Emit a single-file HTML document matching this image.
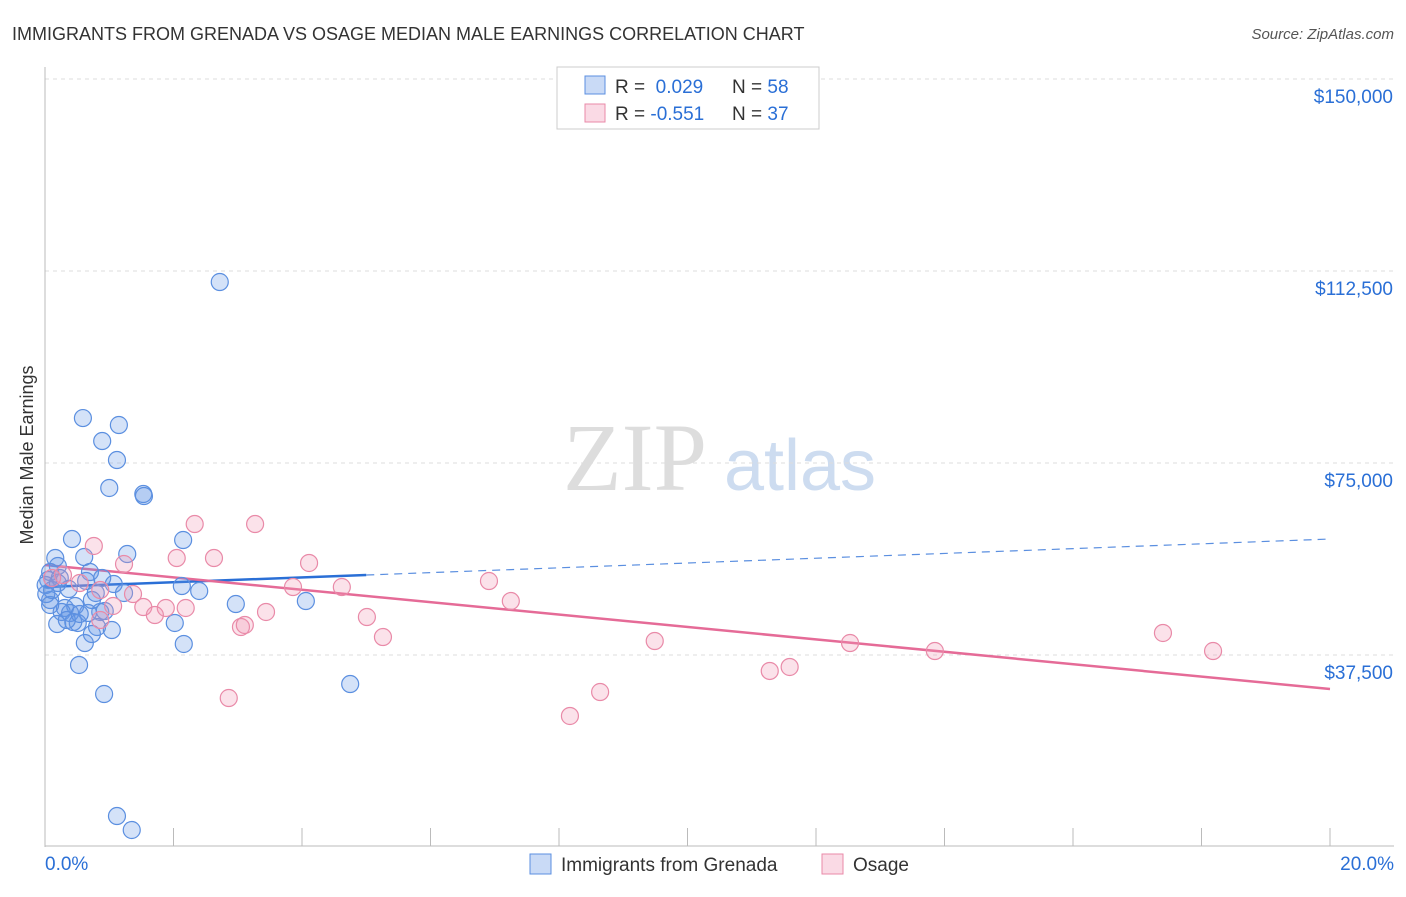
<!DOCTYPE html>
<html><head><meta charset="utf-8"><style>
body{margin:0;background:#fff;font-family:"Liberation Sans",sans-serif;}
</style></head><body>
<svg id="c" width="1406" height="892" xmlns="http://www.w3.org/2000/svg">
<text x="12" y="40" font-size="18" fill="#333">IMMIGRANTS FROM GRENADA VS OSAGE MEDIAN MALE EARNINGS CORRELATION CHART</text>
<text x="1394" y="39" font-size="15" fill="#555" font-style="italic" text-anchor="end">Source: ZipAtlas.com</text>
<text x="33" y="455" font-size="18" fill="#333" text-anchor="middle" transform="rotate(-90 33 455)">Median Male Earnings</text>
<g><text x="635" y="490" font-size="96" fill="#ddd" font-family="Liberation Serif,serif" text-anchor="middle">ZIP</text><text x="800" y="490" font-size="72" fill="#cddcf0" text-anchor="middle">atlas</text></g>
<g id="grid"></g><g id="axes"></g><g id="trend"></g><g id="pts"></g>
<g>
<rect x="557" y="67" width="262" height="62" fill="#fff" stroke="#ccc"/>
<rect x="585" y="76" width="20" height="18" fill="rgba(100,150,230,0.35)" stroke="#5b8fe0"/>
<rect x="585" y="104" width="20" height="18" fill="rgba(240,150,180,0.35)" stroke="#e98aa8"/>
<text x="615" y="93" font-size="19" fill="#333">R = <tspan fill="#2a6fd6">&#160;0.029</tspan><tspan x="732">N = </tspan><tspan fill="#2a6fd6">58</tspan></text>
<text x="615" y="120" font-size="19" fill="#333">R = <tspan fill="#2a6fd6">-0.551</tspan><tspan x="732">N = </tspan><tspan fill="#2a6fd6">37</tspan></text>
</g>
<g>
<rect x="530" y="854" width="21" height="20" fill="rgba(100,150,230,0.35)" stroke="#5b8fe0"/>
<text x="561" y="871" font-size="19" fill="#333">Immigrants from Grenada</text>
<rect x="822" y="854" width="21" height="20" fill="rgba(240,150,180,0.35)" stroke="#e98aa8"/>
<text x="853" y="871" font-size="19" fill="#333">Osage</text>
</g>
</svg>
<script>
const blueX=[2.72,0.59,1.15,0.89,1.12,1.00,1.53,1.54,0.42,2.15,1.28,0.16,0.61,0.20,0.08,0.70,0.89,2.13,0.05,0.23,0.64,1.07,2.40,0.37,0.79,1.23,2.97,4.06,0.08,0.31,0.47,0.26,0.39,0.86,0.93,0.67,0.19,0.44,0.51,2.02,0.81,1.04,0.73,0.62,2.16,0.53,4.75,0.92,1.12,1.35,0.02,0.08,0.34,0.54,0.01,0.11,0.20,0.73];
const blueY=[110350,83780,82420,79290,75580,70120,68940,68550,60150,59960,57220,56440,56640,54880,53710,53710,52540,50970,52150,52540,51950,51360,50000,50390,49610,49610,47460,48040,48240,46680,47070,45900,45700,45900,46090,45700,43550,43940,43750,43750,42970,42380,41600,39840,39650,35550,31830,29880,6050,3320,49410,47270,44330,45510,51170,50190,51560,48240];
const pinkX=[2.33,3.27,0.76,2.05,2.63,4.11,1.23,0.28,6.91,3.86,4.62,0.54,0.11,0.86,1.37,7.25,1.53,1.88,2.19,1.06,1.71,3.44,5.01,3.05,3.11,0.86,5.26,9.49,12.53,17.40,13.85,18.18,11.59,11.28,8.64,2.86,8.17];
const pinkY=[63080,63080,58790,56440,56440,55470,55270,53120,51950,50780,50780,51560,52540,50190,49410,48040,46870,46680,46680,47070,45310,45900,44920,42970,43360,44330,41010,40230,39840,41800,38280,38280,35160,34380,30270,29100,25590];
const yTicks=[37500,75000,112500,150000];
const yTickLabels=["$37,500","$75,000","$112,500","$150,000"];
const xTicks=[0,2,4,6,8,10,12,14,16,18,20];
const blueTrend=[50780,60150];
const pinkTrend=[55080,30860];
const blueSolidEnd=5.0;
const NS="http://www.w3.org/2000/svg";
const X=v=>45+v/20*1285;
const Y=v=>847-v/37500*192;
function mk(tag,attrs,parent){const e=document.createElementNS(NS,tag);for(const k in attrs)e.setAttribute(k,attrs[k]);document.getElementById(parent).appendChild(e);return e;}
yTicks.forEach((t,i)=>{
  const l=mk('line',{x1:45,x2:1394,y1:Y(t),y2:Y(t),stroke:'#ddd','stroke-dasharray':'4,4'},'grid');
  
  
  const tx=mk('text',{x:1393,y:Y(t)+24,'font-size':19,fill:'#2a6fd6','text-anchor':'end'},'axes');
  tx.textContent=yTickLabels[i];
  
  
});
const ax=mk('line',{x1:45,x2:45,y1:67,y2:847,stroke:'#bbb'},'axes');


const bx=mk('line',{x1:45,x2:1394,y1:846,y2:846,stroke:'#bbb'},'axes');


xTicks.forEach(t=>{
  const l=mk('line',{x1:X(t),x2:X(t),y1:828,y2:846,stroke:'#bbb'},'axes');
  
  
});
const x0=mk('text',{x:45,y:870,'font-size':19,fill:'#2a6fd6'},'axes');x0.textContent='0.0%';


const x1=mk('text',{x:1394,y:870,'font-size':19,fill:'#2a6fd6','text-anchor':'end'},'axes');x1.textContent='20.0%';


function ty(tr,x){return tr[0]+(tr[1]-tr[0])*x/20;}
const bs=mk('line',{x1:X(0),y1:Y(ty(blueTrend,0)),x2:X(blueSolidEnd),y2:Y(ty(blueTrend,blueSolidEnd)),stroke:'#2a6fd6','stroke-width':2.5},'trend');


const bd=mk('line',{x1:X(blueSolidEnd),y1:Y(ty(blueTrend,blueSolidEnd)),x2:X(20),y2:Y(ty(blueTrend,20)),stroke:'#5b8fe0','stroke-width':1.2,'stroke-dasharray':'8,6'},'trend');


const pl=mk('line',{x1:X(0),y1:Y(pinkTrend[0]),x2:X(20),y2:Y(pinkTrend[1]),stroke:'#e56b97','stroke-width':2.5},'trend');


blueX.forEach((v,i)=>{
  const c=mk('circle',{cx:X(v),cy:Y(blueY[i]),r:8.5,fill:'rgba(100,150,230,0.28)',stroke:'#5b8fe0','stroke-width':1.2},'pts');
  
  
});
pinkX.forEach((v,i)=>{
  const c=mk('circle',{cx:X(v),cy:Y(pinkY[i]),r:8.5,fill:'rgba(240,150,180,0.28)',stroke:'#e98aa8','stroke-width':1.2},'pts');
  
  
});
</script>
</body></html>
